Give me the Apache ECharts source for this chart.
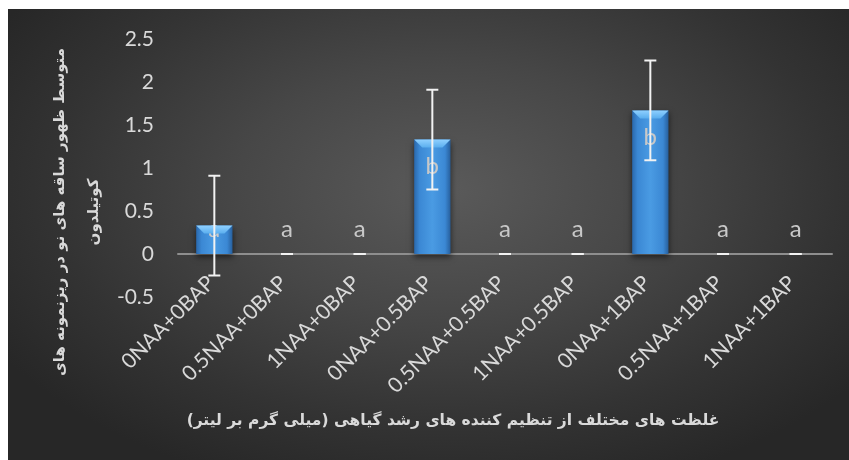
<!DOCTYPE html>
<html>
<head>
<meta charset="utf-8">
<script src="https://cdn.jsdelivr.net/npm/echarts@6/dist/echarts.min.js"></script>
<style>
html,body{margin:0;padding:0;background:#ffffff;width:849px;height:460px;overflow:hidden;}
#c{position:absolute;left:8px;top:9px;width:841px;height:451px;
background:radial-gradient(ellipse 62% 70% at 52% 40%, #5a5a5a 0%, #474747 40%, #333333 75%, #272727 100%);}
</style>
</head>
<body>
<div id="c"></div>
<script>
const categories = ['0NAA+0BAP','0.5NAA+0BAP','1NAA+0BAP','0NAA+0.5BAP','0.5NAA+0.5BAP','1NAA+0.5BAP','0NAA+1BAP','0.5NAA+1BAP','1NAA+1BAP'];
const means = [0.33, 0, 0, 1.33, 0, 0, 1.67, 0, 0];
const errors = [0.58, 0, 0, 0.58, 0, 0, 0.58, 0, 0];
const letters = ['a','a','a','b','a','a','b','a','a'];
const yTicks = {min: -0.5, max: 2.5, interval: 0.5};
const yTitle = 'متوسط ظهور ساقه های نو در ریزنمونه های\nکوتیلدون';
const xTitle = 'غلظت های مختلف از تنظیم کننده های رشد گیاهی (میلی گرم بر لیتر)';

const chart = echarts.init(document.getElementById('c'), null, {renderer: 'canvas'});
const labelColor = '#d9d9d9';

const barData = means.map((v, i) => ({
  value: v,
  label: v > 1
    ? {show: true, position: 'insideTop', distance: 15, formatter: letters[i]}
    : {show: true, position: 'insideBottom', distance: 13, formatter: letters[i]}
}));

const errData = means.map((v, i) => [i, v, errors[i]]);
const bevelData = means.map((v, i) => [i, v]);

const option = {
  backgroundColor: 'transparent',
  animation: false,
  grid: {left: 170, right: 17, top: 30, bottom: 451 - 288},
  xAxis: {
    type: 'category',
    data: categories,
    axisLine: {show: true, onZero: true, lineStyle: {color: '#8e8e8e', width: 2}},
    axisTick: {show: false},
    axisLabel: {interval: 0, rotate: 45, color: labelColor, fontSize: 21, fontFamily: 'Lato', margin: -21, padding: [0, 5, 0, 0]},
    splitLine: {show: false}
  },
  yAxis: {
    type: 'value',
    min: yTicks.min, max: yTicks.max, interval: yTicks.interval,
    axisLine: {show: false},
    axisTick: {show: false},
    splitLine: {show: false},
    axisLabel: {color: labelColor, fontSize: 21, fontFamily: 'Lato', margin: 24}
  },
  graphic: [
    {type: 'text', x: 69.5, y: 203, rotation: Math.PI / 2,
     style: {text: yTitle, fill: labelColor, font: 'bold 15px "DejaVu Sans"', align: 'center', verticalAlign: 'middle', lineHeight: 34},
     z: 10},
    {type: 'text', x: 445, y: 412,
     style: {text: xTitle, fill: labelColor, font: 'bold 15.5px "DejaVu Sans"', align: 'center', verticalAlign: 'middle'}, z: 10}
  ],
  series: [
    {
      type: 'bar',
      data: barData,
      barWidth: '50%',
      itemStyle: {
        color: {type: 'linear', x: 0, y: 0, x2: 1, y2: 0, colorStops: [
          {offset: 0, color: '#2a69ad'},
          {offset: 0.15, color: '#3b88d4'},
          {offset: 0.5, color: '#4a9be3'},
          {offset: 0.85, color: '#3b88d4'},
          {offset: 1, color: '#275f9c'}
        ]},
        shadowBlur: 6, shadowColor: 'rgba(0,0,0,0.55)', shadowOffsetY: 3
      },
      label: {color: '#c8c8c8', fontSize: 24, fontFamily: 'Lato'},
      z: 2
    },
    {
      type: 'custom',
      data: bevelData,
      encode: {x: 0, y: 1},
      z: 3,
      silent: true,
      renderItem: function (params, api) {
        const v = api.value(1);
        if (!(v > 0)) return null;
        const top = api.coord([api.value(0), v]);
        const w = api.size([1, 0])[0] * 0.5;
        const d = 8;
        const l = top[0] - w / 2, r = top[0] + w / 2, t = top[1];
        return {
          type: 'polygon',
          shape: {points: [[l, t], [r, t], [r - d, t + d], [l + d, t + d]]},
          style: {fill: {type: 'linear', x: 0, y: 0, x2: 0, y2: 1, colorStops: [
            {offset: 0, color: '#8fd0ff'}, {offset: 1, color: '#5aaeee'}]}}
        };
      }
    },
    {
      type: 'custom',
      data: errData,
      encode: {x: 0, y: 1},
      z: 5,
      silent: true,
      renderItem: function (params, api) {
        const idx = api.value(0), m = api.value(1), e = api.value(2);
        const hi = api.coord([idx, m + e]);
        const lo = api.coord([idx, m - e]);
        const cw = 6;
        const st = {stroke: '#f2f2f2', lineWidth: 2};
        return {
          type: 'group',
          children: [
            {type: 'line', shape: {x1: hi[0], y1: hi[1], x2: lo[0], y2: lo[1]}, style: st},
            {type: 'line', shape: {x1: hi[0] - cw, y1: hi[1], x2: hi[0] + cw, y2: hi[1]}, style: st},
            {type: 'line', shape: {x1: lo[0] - cw, y1: lo[1], x2: lo[0] + cw, y2: lo[1]}, style: st}
          ]
        };
      }
    }
  ]
};
chart.setOption(option);
</script>
</body>
</html>
